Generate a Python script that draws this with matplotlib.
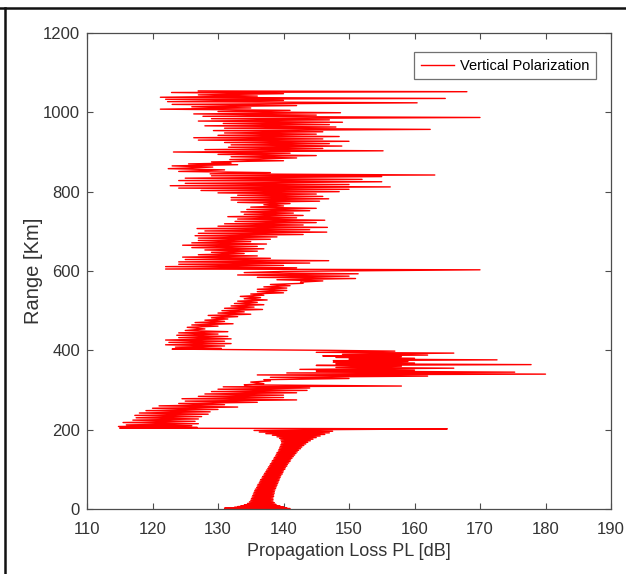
import matplotlib

matplotlib.use("Agg")
import matplotlib.pyplot as plt
from matplotlib.lines import Line2D

plt.rcParams["font.family"] = ["Liberation Sans", "DejaVu Sans"]

# Propagation loss along range, split into range bands.
# Each band: range in km and propagation loss in dB (zigzag trace).
km_0_200 = [0, 1, 2, 3, 4, 5, 6, 7, 8, 9, 10, 12, 14, 16, 18, 20,
            22, 24, 26, 28, 30, 32, 34, 36, 38, 40, 42, 44, 46, 48, 50, 52, 54, 56, 58,
            60, 62, 64, 66, 68, 70, 72, 74, 76, 78, 80, 82, 84, 86, 88, 90, 92, 94, 96,
            98, 100, 102, 104, 106, 108, 110, 112, 114, 116, 118, 120, 122, 124, 126,
            128, 130, 132, 134, 136, 138, 140, 142, 144, 146, 148, 150, 152, 154, 156,
            158, 160, 162, 164, 166, 168, 170, 172, 174, 176, 178, 180, 182, 184, 186,
            188, 190, 192, 194, 196, 198, 200, 202]
db_0_200 = [132, 141, 131, 140.5, 132.5, 140, 133, 139.5, 133.5, 139, 134, 138.8, 134.5,
            138.6, 134.8, 138.4,
            135.0, 138.4, 135.1, 138.4, 135.2, 138.5, 135.3, 138.5, 135.4, 138.6, 135.5,
            138.6, 135.6, 138.7, 135.7, 138.8, 135.9, 138.9, 136.0, 139.0, 136.1, 139.1,
            136.3, 139.2, 136.4, 139.3, 136.5, 139.4, 136.7, 139.5, 136.8, 139.6, 137.0,
            139.8, 137.1, 139.9, 137.3, 140.0, 137.4, 140.2, 137.6, 140.3, 137.7, 140.5,
            137.9, 140.6, 138.0, 140.8, 138.2, 141.0, 138.3, 141.1, 138.5, 141.3, 138.6,
            141.5, 138.8, 141.7, 138.9, 141.9, 139.0, 142.1, 139.2, 142.3, 139.3, 142.6,
            139.4, 142.8, 139.5, 143.1, 139.6, 143.4, 139.7, 143.7, 139.7, 144.1, 139.6,
            144.5, 139.4, 145.0, 139.0, 145.6, 138.3, 146.3, 137.3, 147.0, 136.3, 147.5,
            135.5, 146.5, 165]

km_200_405 = [204, 206, 208, 210, 212, 215, 218, 221, 224, 227, 230, 233, 236, 239, 242,
              245, 248, 251, 254, 257, 260, 263, 266, 269, 272, 275, 278, 281, 284, 287,
              290, 293, 296, 299, 302, 305, 308, 310, 313, 316, 320, 323, 326, 329, 332,
              335, 338, 340, 343, 345, 348, 350, 352, 355, 357, 360, 362, 364, 366, 368,
              370, 372, 374, 376, 378, 380, 382, 384, 386, 388, 390, 393, 395, 398, 400, 403]
db_200_405 = [115, 126.8, 114.8, 126, 116, 127, 115.5, 126.5, 117, 127, 117.5, 127.5,
              117.3, 128.5, 118, 128.8, 119, 130, 120, 133, 121, 131, 124, 136, 125, 142,
              124.5, 140, 127, 140, 128, 142, 129, 143.6, 130, 144, 130.8, 158, 134, 137,
              135, 138, 137, 150, 138, 162, 136, 180, 140.5, 175.3, 145, 160, 142.5, 166,
              148, 158, 145, 177.8, 148, 160, 147.6, 159, 147.6, 172.6, 150, 160, 148, 158,
              146, 162, 149, 166, 145, 157, 147, 123]

km_405_605 = [405, 408, 411, 414, 417, 420, 423, 426, 429, 432, 435, 438, 441, 444, 447,
              450, 454, 458, 461, 464, 467, 470, 473, 476, 479, 482, 485, 488, 491, 494,
              497, 500, 503, 506, 509, 512, 515, 518, 521, 524, 527, 530, 533, 536, 539,
              542, 545, 548, 551, 554, 557, 560, 563, 566, 569, 572, 575, 578, 581, 584,
              587, 590, 593, 596, 599, 603, 605]
db_405_605 = [130.5, 123.5, 131, 122, 132, 122.5, 131, 122, 132, 124, 131.5, 123.7, 130,
              124, 131.5, 125, 128, 125.3, 130, 126, 132.3, 126.5, 131, 128, 131.5, 129,
              133, 128.5, 135, 130, 134, 130.6, 136.8, 131, 135.5, 132, 137, 132.5, 136,
              133, 137.5, 134, 136.5, 133.4, 137, 135, 140, 136, 140.5, 136, 140.5, 137,
              141, 138, 143, 142.6, 146, 139, 151, 136, 150, 133, 151.4, 134, 140, 170, 122]

km_605_800 = [608, 611, 614, 617, 620, 623, 626, 629, 632, 635, 638, 641, 644, 647, 650,
              653, 656, 659, 662, 665, 668, 671, 674, 677, 680, 683, 686, 689, 692, 695,
              698, 701, 704, 707, 710, 713, 716, 719, 722, 725, 728, 731, 734, 737, 740,
              743, 746, 749, 752, 755, 758, 761, 764, 767, 770, 773, 776, 779, 782, 785,
              788, 791, 794, 797, 800]
db_605_800 = [142, 122, 140, 124, 144, 124, 146.9, 125, 138, 124.6, 136, 127, 134, 129,
              136, 128, 137, 126, 136, 124.6, 137.4, 126, 135, 127, 138, 127, 139, 126.5,
              143, 127, 146.6, 128, 144, 126.8, 146.7, 130, 143, 131, 145, 132.6, 146.3,
              133, 142, 131.5, 143, 134, 141.5, 133.5, 144, 134.4, 145, 135, 140, 137, 141,
              133, 145.5, 132, 146.9, 132, 146, 133, 145, 130, 148.5]

km_800_1055 = [803, 806, 809, 812, 815, 818, 821, 825, 828, 831, 834, 838, 840, 842, 845,
               848, 851, 855, 858, 862, 865, 868, 870, 872, 875, 878, 881, 885, 888, 891,
               894, 897, 900, 903, 906, 909, 912, 915, 918, 921, 924, 927, 930, 933, 936,
               939, 942, 945, 948, 951, 954, 957, 960, 963, 966, 969, 972, 975, 978, 981,
               984, 987, 990, 993, 996, 999, 1002, 1005, 1008, 1011, 1014, 1017, 1020,
               1024, 1027, 1030, 1033, 1035, 1038, 1041, 1044, 1047, 1050, 1052, 1054]
db_800_1055 = [127.4, 150, 124, 156.3, 122.7, 150, 125, 155, 124, 152, 125, 155, 129,
               163.1, 128.8, 138, 124, 131, 122.4, 129.2, 123, 133, 125.5, 132, 129, 140,
               131.8, 142, 132, 145, 130, 141, 123.2, 155.2, 128, 146, 131.6, 148.9, 132,
               147, 131, 150, 127, 146, 126.3, 148.5, 130, 145, 131, 146, 129.3, 162.4, 131,
               148, 128, 147, 130.8, 149, 127, 147, 129, 170, 127.7, 145, 126.3, 148.7, 130,
               141, 121.2, 135, 126, 142, 123, 160.4, 122.3, 140, 122, 164.7, 121.2, 136,
               127, 140, 122.9, 168, 127]

range_km = km_0_200 + km_200_405 + km_405_605 + km_605_800 + km_800_1055
loss_db = db_0_200 + db_200_405 + db_405_605 + db_605_800 + db_800_1055
assert len(range_km) == len(loss_db)

x_ticks = list(range(110, 191, 10))
y_ticks = list(range(0, 1201, 200))

fig = plt.figure(figsize=(6.26, 5.74), dpi=100)
fig.patch.set_facecolor("white")
ax = fig.add_axes([87 / 626, 1 - 509 / 574, 524 / 626, 476 / 574])

ax.plot(loss_db, range_km, color="#ff0000", linewidth=1.0,
        label="Vertical Polarization")

ax.set_xlim(110, 190)
ax.set_ylim(0, 1200)
ax.set_xticks(x_ticks)
ax.set_yticks(y_ticks)

frame_col = "#4d4d4d"
for side in ax.spines.values():
    side.set_color(frame_col)
    side.set_linewidth(0.9)
ax.tick_params(direction="in", length=4, width=0.8, colors=frame_col,
               labelcolor="#333333", labelsize=12, top=True, right=True)
ax.tick_params(axis="x", pad=9)
ax.tick_params(axis="y", pad=5)

ax.set_xlabel("Propagation Loss PL [dB]", fontsize=13, color="#333333", labelpad=5)
ax.set_ylabel("Range [Km]", fontsize=14.5, color="#333333", labelpad=0)

leg = ax.legend(loc="upper right", fontsize=10.5, frameon=True, fancybox=False,
                handlelength=2.3, handletextpad=0.4, borderpad=0.45,
                bbox_to_anchor=(0.985, 0.975))
leg.get_frame().set_edgecolor("#4d4d4d")
leg.get_frame().set_linewidth(0.9)

# Screenshot border along the top and left edges
fig.add_artist(Line2D([0, 1], [1 - 8 / 574, 1 - 8 / 574], transform=fig.transFigure,
                      color="#111111", linewidth=1.8))
fig.add_artist(Line2D([5 / 626, 5 / 626], [0, 1 - 8 / 574], transform=fig.transFigure,
                      color="#111111", linewidth=1.8))

fig.savefig("out.png", dpi=100, facecolor="white")
